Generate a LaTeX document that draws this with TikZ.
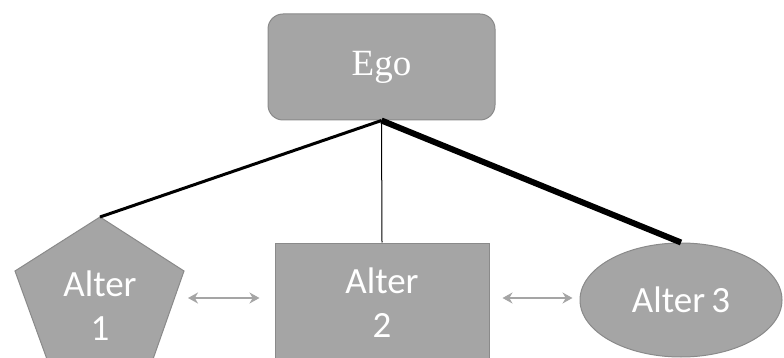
\documentclass[tikz,border=0pt]{standalone}
\usepackage{fontspec}
\setmainfont{Liberation Serif}
\newfontfamily\altfont{Carlito}
\usepackage[]{xcolor}
\usepackage{tikz}
\usetikzlibrary{shapes.geometric,arrows.meta}

\definecolor{boxgray}{HTML}{A5A5A5}
\definecolor{rimgray}{HTML}{8A8A8A}

\begin{document}
\begin{tikzpicture}[x=1pt,y=-1pt,
        shp/.style = {fill=boxgray, draw=rimgray, line width=1pt, text=white},
        alt/.style = {text=white, align=center, font=\altfont\fontsize{37}{44}\selectfont},
        pair/.style = {draw=boxgray, line width=1.6pt,
                       {Stealth[length=10pt,width=11pt]}-{Stealth[length=10pt,width=11pt]}}]
        \useasboundingbox (0,0) rectangle (784,358);
        \clip (0,0) rectangle (784,358);
        % ego
        \node[shp, rounded corners=15pt, minimum width=227pt, minimum height=106pt,
              font=\fontsize{37}{40}\selectfont] (ego) at (381.5,67) {Ego};
        % alters
        \draw[shp] (100,217) -- (184,271) -- (152,362) -- (48,362) -- (15,271) -- cycle;
        \coordinate (a1top) at (100,217);
        \coordinate (a1r) at (175,298);
        \node[alt] (alt1) at (100,306) {Alter\\1};
        \node[shp, alt, rectangle, minimum width=214pt, minimum height=120pt] (alt2) at (382,303) {Alter\\2};
        \node[shp, alt, ellipse, minimum width=202pt, minimum height=114pt, inner sep=0pt] (alt3) at (681,300) {Alter\,3};
        % ties
        \draw[line width=3pt] (ego.south) -- (a1top);
        \draw[line width=1pt] (ego.south) -- (alt2.north);
        \draw[line width=6pt] (ego.south) -- (alt3.north);
        \draw[pair, shorten <=13pt, shorten >=15pt] (a1r) -- (alt2.west |- a1r);
        \draw[pair, shorten <=13pt, shorten >=7pt] (alt2.east |- a1r) -- (alt3.west |- a1r);
\end{tikzpicture}
\end{document}
